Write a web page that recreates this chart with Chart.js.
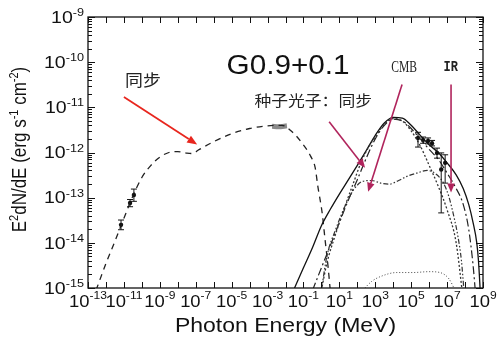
<!DOCTYPE html>
<html><head><meta charset="utf-8">
<script src="https://cdn.jsdelivr.net/npm/chart.js@4.4.1/dist/chart.umd.min.js"></script>
<style>html,body{margin:0;padding:0;background:#fff;}canvas{display:block;}</style>
</head><body>
<canvas id="c" width="498" height="340"></canvas>
<script>
// ---------- data (E in MeV, E^2 dN/dE in erg s^-1 cm^-2) ----------
const syncE = [2.8e-13,1e-12,3.2e-12,1e-11,3.2e-11,1e-10,3.2e-10,1e-9,3.2e-9,1e-8,3.2e-8,6.3e-8,1.6e-7,1e-6,1e-5,1e-4,1e-3,6.3e-3,0.025,0.079,0.25,0.45,0.63,1.1,1.6,2.3,3.2];
const syncF = [8.9e-16,3.5e-15,1.1e-14,3.5e-14,1.1e-13,2.8e-13,5.2e-13,7.9e-13,1.0e-12,1.05e-12,9.7e-13,9.5e-13,1.17e-12,1.74e-12,2.6e-12,3.4e-12,3.9e-12,4.0e-12,2.8e-12,1.66e-12,8.3e-13,4.6e-13,1.8e-13,4.6e-14,1.17e-14,3.2e-15,7.9e-16];

const totalE = [0.028,0.1,0.32,1,3.2,10,32,100,320,1000,3200,1e4,3.2e4,1e5,3.2e5,1e6,3.2e6,1e7,3.2e7,7.9e7,1.6e8,2.8e8,4.5e8,5.6e8,7.1e8];
const totalF = [8.9e-16,2.8e-15,7.9e-15,2.4e-14,5.6e-14,1.2e-13,2.5e-13,5.2e-13,1.12e-12,2.4e-12,4.5e-12,6.0e-12,5.8e-12,4.0e-12,2.4e-12,1.48e-12,1.0e-12,5.9e-13,3.2e-13,1.6e-13,7.1e-14,2.8e-14,1e-14,4e-15,7.9e-16];

const dotE = [1,2,6.3,20,63,160,400,1000,3200,1e4,3.2e4,1e5,3.2e5,1e6,3.2e6,1e7,3.2e7,7.1e7];
const dotF = [8.9e-16,3.5e-15,1.6e-14,6.3e-14,2.2e-13,6e-13,1.26e-12,2.2e-12,4.2e-12,5.6e-12,5e-12,3e-12,1.4e-12,5.2e-13,1.8e-13,5.4e-14,1e-14,7.9e-16];

const dashDotE = [0.32,1,3.2,10,32,100,320,1000,3200,1e4,3.2e4,1e5,3.2e5,1e6,3.2e6,1e7,3.2e7,7.9e7,1.6e8,2.8e8,3.8e8];
const dashDotF = [8.9e-16,2.8e-15,8.9e-15,2.8e-14,8.9e-14,2.5e-13,7.6e-13,2e-12,4e-12,5.5e-12,5e-12,3.4e-12,2e-12,1.17e-12,7.1e-13,3.5e-13,1.6e-13,7.1e-14,2e-14,3.2e-15,7.9e-16];

const humpE = [1,2,6.3,20,63,200,630,2000,6300,2e4,6.3e4,2e5,8e5,2.5e6,6.3e6,1.26e7,2.5e7,4e7,6.3e7,8.9e7];
const humpF = [8.9e-16,5e-15,2e-14,6.3e-14,1.5e-13,2.3e-13,2.4e-13,2.1e-13,2e-13,2.4e-13,3e-13,3.5e-13,4e-13,3.3e-13,2.1e-13,1.05e-13,3.5e-14,1.4e-14,4e-15,7.9e-16];

const lowE = [200,630,2000,1.6e4,1.26e5,1e6,4e6,1.26e7,2.8e7];
const lowF = [8.9e-16,1.4e-15,1.8e-15,2.2e-15,2.2e-15,2.3e-15,2.2e-15,1.6e-15,8.9e-16];

const blobE = [1.8e-3,4e-3,1.2e-2];
const blobF = [3.8e-12,3.7e-12,3.9e-12];

const radioE  = [6.9e-12,2.2e-11,3.6e-11];
const radioF  = [2.5e-14,7.6e-14,1.15e-13];
const radioLo = [1.95e-14,6.3e-14,8.3e-14];
const radioHi = [3.2e-14,9.1e-14,1.55e-13];

const gammaE  = [2.4e5,4.6e5,8.7e5,1.45e6,2.75e6,4.7e6,7.8e6];
const gammaF  = [2.1e-12,1.9e-12,1.8e-12,1.6e-12,9.8e-13,4.2e-13,5.9e-13];
const gammaLo = [1.32e-12,1.6e-12,1.55e-12,1.4e-12,7.5e-13,4.6e-14,2.1e-13];
const gammaHi = [2.8e-12,2.2e-12,2.1e-12,1.85e-12,1.25e-12,9.8e-13,8.9e-13];

// tick labels
const xTickVals = [1e-13,1e-11,1e-9,1e-7,1e-5,1e-3,1e-1,1e1,1e3,1e5,1e7,1e9];
const xTickExp  = ['-13','-11','-9','-7','-5','-3','-1','1','3','5','7','9'];
const yTickVals = [1e-15,1e-14,1e-13,1e-12,1e-11,1e-10,1e-9];
const yTickExp  = ['-15','-14','-13','-12','-11','-10','-9'];

// annotations (data coordinates)
const titleText = 'G0.9+0.1';
const titlePos = [0.014, 7.8e-11];
const syncLabel = '同步', syncLabelPos = [1.15e-10, 4.1e-11];
const syncArrow = [[1.0e-11,1.7e-11],[1.2e-7,1.5e-12]];
const seedLabel = '种子光子：同步', seedLabelPos = [0.35, 1.45e-11];
const seedArrow = [[2.7,4.8e-12],[270,4.6e-13]];
const cmbLabel = 'CMB', cmbLabelPos = [4e4, 7.6e-11];
const cmbArrow = [[3.1e4,3.2e-11],[400,1.35e-13]];
const irLabel = 'IR', irLabelPos = [1.6e7, 7.6e-11];
const irArrow = [[1.66e7,3.2e-11],[1.66e7,1.3e-13]];

const xTitle = 'Photon Energy (MeV)';

// ---------- helpers ----------
const zip = (E,F) => E.map((e,i)=>({x:e,y:F[i]}));
const SANS = '"Liberation Sans", Arial, sans-serif';
const SX = 1.15;

function line(E,F,dash,width,color){
  return {data:zip(E,F),showLine:true,pointRadius:0,borderColor:color||'#1a1a1a',borderWidth:width||1.2,
    borderDash:dash||[],cubicInterpolationMode:'monotone',fill:false};
}

function txt(ctx,s,x,y,font,align,sx,color){
  ctx.save();ctx.font=font;ctx.fillStyle=color||'#111';ctx.textAlign=align||'center';ctx.textBaseline='middle';
  ctx.translate(x,y);ctx.scale(sx||1,1);ctx.fillText(s,0,0);ctx.restore();
}
function arrow(ctx,x1,y1,x2,y2,color,lw,hl,hw){
  const a=Math.atan2(y2-y1,x2-x1);const bx=x2-hl*Math.cos(a),by=y2-hl*Math.sin(a);
  ctx.save();ctx.strokeStyle=color;ctx.fillStyle=color;ctx.lineWidth=lw;
  ctx.beginPath();ctx.moveTo(x1,y1);ctx.lineTo(bx,by);ctx.stroke();
  ctx.beginPath();ctx.moveTo(x2,y2);ctx.lineTo(bx+hw*Math.sin(a),by-hw*Math.cos(a));
  ctx.lineTo(bx-hw*Math.sin(a),by+hw*Math.cos(a));ctx.closePath();ctx.fill();ctx.restore();
}
function pow10Label(ctx,exp,x,y,baseSize,supSize,align,supRise){
  ctx.save();
  ctx.font=baseSize+'px '+SANS;const w1=ctx.measureText('10').width*SX;
  ctx.font=supSize+'px '+SANS;const w2=ctx.measureText(exp).width*SX;
  const tot=w1+w2;let start = align==='center'? x-tot/2 : x-tot;
  txt(ctx,'10',start,y,baseSize+'px '+SANS,'left',SX);
  txt(ctx,exp,start+w1,y-supRise,supSize+'px '+SANS,'left',SX);
  ctx.restore();
}

const deco = {
  id:'deco',
  afterDatasetsDraw(chart){
    const ctx=chart.ctx, X=chart.scales.x, Y=chart.scales.y;
    ctx.save();ctx.strokeStyle='#111';ctx.lineWidth=1;
    const eb=(E,Lo,Hi)=>E.forEach((e,i)=>{
      const px=X.getPixelForValue(e),p1=Y.getPixelForValue(Lo[i]),p2=Y.getPixelForValue(Hi[i]);
      ctx.beginPath();ctx.moveTo(px,p1);ctx.lineTo(px,p2);
      ctx.moveTo(px-3,p1);ctx.lineTo(px+3,p1);ctx.moveTo(px-3,p2);ctx.lineTo(px+3,p2);ctx.stroke();
    });
    eb(radioE,radioLo,radioHi);eb(gammaE,gammaLo,gammaHi);
    ctx.restore();
  },
  afterDraw(chart){
    const ctx=chart.ctx, a=chart.chartArea, X=chart.scales.x, Y=chart.scales.y;
    const P=(p)=>[X.getPixelForValue(p[0]),Y.getPixelForValue(p[1])];
    ctx.save();
    // frame
    ctx.strokeStyle='#111';ctx.lineWidth=1.3;
    ctx.strokeRect(a.left,a.top,a.right-a.left,a.bottom-a.top);
    // x ticks (every decade)
    ctx.lineWidth=1;ctx.beginPath();
    for(let k=-13;k<=9;k++){
      const px=Math.round(X.getPixelForValue(Math.pow(10,k)))+0.5;
      ctx.moveTo(px,a.bottom);ctx.lineTo(px,a.bottom-6);
      ctx.moveTo(px,a.top);ctx.lineTo(px,a.top+6);
    }
    // y ticks major + minor
    for(let k=-15;k<=-9;k++){
      for(let m=1;m<=9;m++){
        const v=m*Math.pow(10,k); if(v>1.0001e-9) break;
        const py=Math.round(Y.getPixelForValue(v))+0.5; const len=m===1?7:4;
        ctx.moveTo(a.left,py);ctx.lineTo(a.left+len,py);
        ctx.moveTo(a.right,py);ctx.lineTo(a.right-len,py);
      }
    }
    ctx.stroke();
    // tick labels
    xTickVals.forEach((v,i)=>pow10Label(ctx,xTickExp[i],X.getPixelForValue(v),a.bottom+15,16,10.5,'center',6.5));
    yTickVals.forEach((v,i)=>pow10Label(ctx,yTickExp[i],a.left-4,Y.getPixelForValue(v)+1,17,11,'right',5));
    // x title
    txt(ctx,xTitle,(a.left+a.right)/2,a.bottom+38,'20px '+SANS,'center',SX);
    // y title with superscripts
    const segs=[['E',0],['2',1],['dN/dE (erg s',0],['-1',1],[' cm',0],['-2',1],[')',0]];
    const nf='17px '+SANS, sf='11px '+SANS;
    let L=0;segs.forEach(s=>{ctx.font=s[1]?sf:nf;s.w=ctx.measureText(s[0]).width;L+=s.w;});
    ctx.save();ctx.translate(a.left-62,(a.top+a.bottom)/2-3);ctx.scale(SX,1);ctx.rotate(-Math.PI/2);
    ctx.fillStyle='#111';ctx.textBaseline='alphabetic';ctx.textAlign='left';
    let cx=-L/2;segs.forEach(s=>{ctx.font=s[1]?sf:nf;ctx.fillText(s[0],cx,s[1]?-7:0);cx+=s.w;});
    ctx.restore();
    // annotations
    let p=P(titlePos);txt(ctx,titleText,p[0],p[1],'27px '+SANS,'center',1.1);
    p=P(syncLabelPos);txt(ctx,syncLabel,p[0],p[1],'16px "Noto Sans CJK SC"','center',1.12,'#222');
    p=P(seedLabelPos);txt(ctx,seedLabel,p[0],p[1],'15px "Noto Sans CJK SC"','center',1.12,'#222');
    p=P(cmbLabelPos);txt(ctx,cmbLabel,p[0],p[1],'17px "Liberation Serif", serif','center',0.68,'#222');
    p=P(irLabelPos);txt(ctx,irLabel,p[0],p[1],'bold 15px "Liberation Mono", monospace','center',0.8,'#222');
    let s=P(syncArrow[0]),e=P(syncArrow[1]);arrow(ctx,s[0],s[1],e[0],e[1],'#e8261e',1.8,10,4);
    const cr='#b0245c';
    s=P(seedArrow[0]);e=P(seedArrow[1]);arrow(ctx,s[0],s[1],e[0],e[1],cr,1.6,9,3.8);
    s=P(cmbArrow[0]);e=P(cmbArrow[1]);arrow(ctx,s[0],s[1],e[0],e[1],cr,1.6,9,3.8);
    s=P(irArrow[0]);e=P(irArrow[1]);arrow(ctx,s[0],s[1],e[0],e[1],cr,1.6,9,3.8);
    ctx.restore();
  }
};

new Chart(document.getElementById('c').getContext('2d'),{
  type:'scatter',
  data:{datasets:[
    line(lowE,lowF,[1,2],0.9,'#333'),
    line(humpE,humpF,[5,2,1.5,2,1.5,2],1.2,'#333'),
    line(dotE,dotF,[2,2],1.3,'#333'),
    line(dashDotE,dashDotF,[8,3,2,3],1.2,'#222'),
    line(totalE,totalF,[],1.3,'#111'),
    line(syncE,syncF,[6,5],1.3,'#222'),
    line(blobE,blobF,[],5,'#8a8a8a'),
    {data:zip(radioE,radioF),pointRadius:2.2,pointBackgroundColor:'#111',pointBorderWidth:0,showLine:false},
    {data:zip(gammaE,gammaF),pointRadius:2.2,pointBackgroundColor:'#111',pointBorderWidth:0,showLine:false}
  ]},
  options:{
    responsive:false,animation:false,
    layout:{padding:{left:88,top:17,right:15,bottom:52}},
    plugins:{legend:{display:false},tooltip:{enabled:false}},
    scales:{
      x:{type:'logarithmic',min:1e-13,max:1e9,display:false},
      y:{type:'logarithmic',min:1e-15,max:1e-9,display:false}
    }
  },
  plugins:[deco]
});
</script>
</body></html>
